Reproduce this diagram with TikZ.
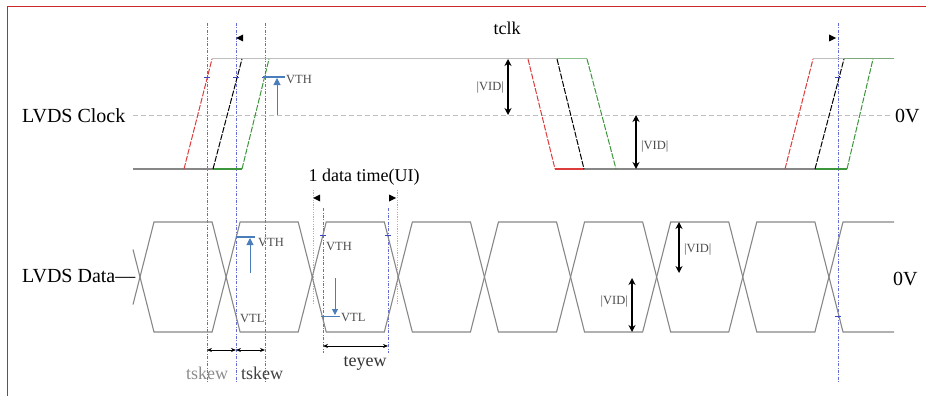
\documentclass[tikz,border=0pt]{standalone}
\usepackage{fontspec}
\setmainfont{Liberation Serif}
\usetikzlibrary{arrows.meta}
\definecolor{wave}{RGB}{135,135,135}
\definecolor{hiwave}{RGB}{190,190,190}
\definecolor{guide}{RGB}{100,110,210}
\definecolor{tickc}{RGB}{60,70,200}
\definecolor{vth}{RGB}{74,126,187}
\definecolor{frame}{RGB}{200,40,40}
\definecolor{redge}{RGB}{220,60,60}
\definecolor{gedge}{RGB}{60,150,60}
\begin{document}
\begin{tikzpicture}[x=1pt,y=-1pt,
  lbl/.style={font=\fontsize{20}{23}\selectfont, inner sep=0pt},
  mid/.style={font=\fontsize{18}{21}\selectfont, inner sep=0pt},
  small/.style={font=\fontsize{12.5}{14}\selectfont, inner sep=0pt, text=black!70},
  wv/.style={draw=wave, line width=1.1pt},
  hi/.style={draw=hiwave, line width=1pt},
  edge/.style={line width=1pt, dash pattern=on 6pt off 1.5pt},
  guideline/.style={draw=guide, line width=0.6pt, dash pattern=on 3pt off 1.5pt on 0.8pt off 1.5pt},
  dotline/.style={draw=black!30, line width=0.6pt, dash pattern=on 1.2pt off 1.2pt},
  vidarrow/.style={line width=1.5pt, {Stealth[length=7pt,width=7pt]}-{Stealth[length=7pt,width=7pt]}},
  dimarrow/.style={line width=0.8pt, {Stealth[length=5pt,width=4pt]}-{Stealth[length=5pt,width=4pt]}},
  blu/.style={draw=vth, line width=1.5pt},
  tick/.style={draw=tickc, line width=1pt}
]
\useasboundingbox (0,0) rectangle (926,396);
% frame
\draw[frame, line width=1.2pt] (7.5,396) -- (7.5,6.5) -- (926,6.5);

% ---------- guides ----------
\foreach \x in {207,236,265,838} \draw[guideline] (\x,23) -- (\x,382);
\draw[dotline] (313,190) -- (313,305);
\draw[dotline] (397,190) -- (397,305);
\draw[guideline] (323,208) -- (323,353);
\draw[guideline] (388,208) -- (388,353);

% ---------- clock ----------
\draw[dash pattern=on 5pt off 3pt, draw=black!25, line width=0.8pt] (133,115) -- (890,115);
% low / high levels
\draw[wv] (133,169) -- (213,169);
\draw[gedge, line width=1.1pt] (213,169) -- (242,169);
\draw[hi] (212,59) -- (557,59);
\draw[draw=gedge!60, line width=1pt] (557,59) -- (587,59);
\draw[redge, line width=1.2pt] (555,169) -- (584,169);
\draw[wv] (584,169) -- (815,169);
\draw[gedge, line width=1.1pt] (815,169) -- (847,169);
\draw[hi] (813,59) -- (844,59);
\draw[draw=gedge!50!hiwave, line width=1pt] (844,59) -- (894,59);
% rising edges
\draw[edge, redge] (184,169) -- (212,59);
\draw[edge, black] (213,169) -- (242,59);
\draw[edge, gedge] (242,169) -- (269,59);
% falling edges
\draw[edge, redge] (528,59) -- (555,169);
\draw[edge, black] (557,59) -- (584,169);
\draw[edge, gedge] (587,59) -- (616,169);
% rising edges right
\draw[edge, redge] (785,169) -- (813,59);
\draw[edge, black] (815,169) -- (844,59);
\draw[edge, gedge] (847,169) -- (873,59);
% ticks
\foreach \x in {207,236,265,838} \draw[tick] (\x-3,77) -- (\x+3,77);
% VTH clock
\coordinate (vthc0) at (277,115);
\coordinate (vthc1) at (277,78);
\draw[blu] (263,77) -- (285,77);
\draw[draw=vth, line width=1pt, -{Triangle[length=7pt,width=7pt]}] (vthc0) -- (vthc1);
\node[small, anchor=west] (vthclk) at (286,80) {VTH};
% |VID| clock
\coordinate (vida0) at (508,59);
\coordinate (vida1) at (508,115);
\draw[vidarrow] (vida0) -- (vida1);
\node[small, anchor=east] (vidc1) at (504,88) {|VID|};
\coordinate (vidb0) at (636,115);
\coordinate (vidb1) at (636,169);
\draw[vidarrow] (vidb0) -- (vidb1);
\node[small, anchor=west] (vidc2) at (641,147) {|VID|};
% tclk
\node[mid] (tclk) at (507,28) {tclk};
\fill (236,38) -- (243,34.5) -- (243,41.5) -- cycle;
\fill (836,38) -- (829,34.5) -- (829,41.5) -- cycle;
\node[lbl, anchor=west] (clk) at (22,116) {LVDS Clock};
\node[lbl, anchor=west] (zvc) at (895,116) {0V};

% ---------- data ----------
\pgfmathsetmacro{\p}{86.11}
\foreach \k in {0,...,7}{
  \pgfmathsetmacro{\a}{140+\k*\p}
  \pgfmathsetmacro{\b}{140+(\k+1)*\p}
  \draw[wv] (\a,277) -- (\a+14,222) -- (\b-14,222) -- (\b,277) -- (\b-14,332) -- (\a+14,332) -- cycle;
}
\draw[wv] (894,222) -- (843,222) -- (829,277) -- (843,332) -- (894,332);
\draw[wv] (133,249.5) -- (140,277) -- (133,304.5);
\foreach \y in {235} {\draw[tick] (320,\y) -- (326,\y); \draw[tick] (385,\y) -- (391,\y);}
\draw[tick] (835,316) -- (841,316);
% VTH/VTL data
\coordinate (vthd0) at (250,273);
\coordinate (vthd1) at (250,238);
\draw[blu] (236,237) -- (255,237);
\draw[draw=vth, line width=1pt, -{Triangle[length=7pt,width=7pt]}] (vthd0) -- (vthd1);
\node[small, anchor=west] (vthd) at (258,242) {VTH};
\node[small, anchor=west] (vtld) at (240,318) {VTL};
\node[small, anchor=west] (vth3) at (326,246) {VTH};
\coordinate (vtl0) at (335,278);
\coordinate (vtl1) at (335,315);
\draw[draw=vth, line width=1pt] (321,316) -- (340,316);
\draw[draw=vth, line width=1pt, -{Triangle[length=6pt,width=6pt]}] (vtl0) -- (vtl1);
\node[small, anchor=west] (vtl3) at (341,317) {VTL};
% |VID| data
\coordinate (vidc0) at (679,222);
\coordinate (vidc1) at (679,273);
\draw[vidarrow] (vidc0) -- (vidc1);
\node[small, anchor=west] (vidd1) at (684,250) {|VID|};
\coordinate (vidd0) at (632,278);
\coordinate (vidd1a) at (632,332);
\draw[vidarrow] (vidd0) -- (vidd1a);
\node[small, anchor=east] (vidd2) at (628,302) {|VID|};
% labels
\node[lbl, anchor=west] (dat) at (22,276) {LVDS Data—};
\node[lbl, anchor=west] (zvd) at (893,279) {0V};
% UI
\node[mid] (ui) at (364,177) {1 data time(UI)};
\fill (313,198) -- (320,194.5) -- (320,201.5) -- cycle;
\fill (396,198) -- (389,194.5) -- (389,201.5) -- cycle;
% teyew
\coordinate (te0) at (323,346);
\coordinate (te1) at (388,346);
\draw[dimarrow] (te0) -- (te1);
\node[mid, text=black!80] (teyew) at (365,363) {teyew};
% tskew
\coordinate (ts0) at (207,350);
\coordinate (ts1) at (236,350);
\coordinate (ts2) at (265,350);
\draw[dimarrow] (ts0) -- (ts1);
\draw[dimarrow] (ts1) -- (ts2);
\node[mid, text=black!45] (tsk1) at (207,373) {tskew};
\node[mid, text=black!75] (tsk2) at (262,373) {tskew};
\end{tikzpicture}
\end{document}
